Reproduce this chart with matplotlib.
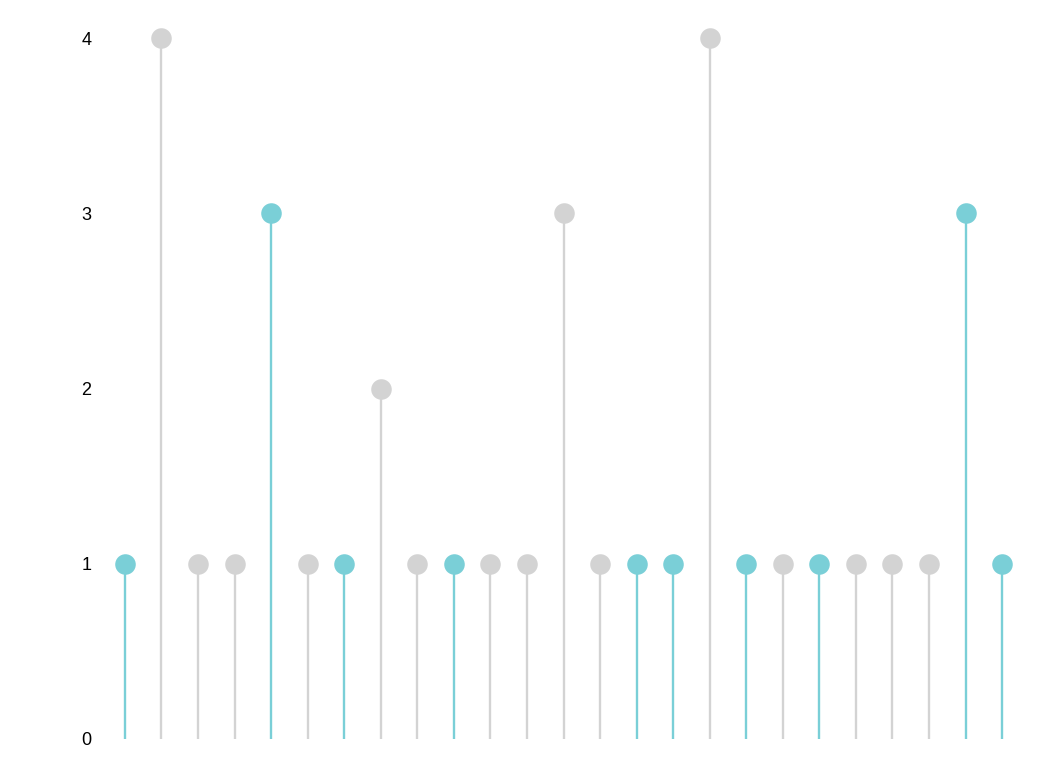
import matplotlib
matplotlib.use("Agg")
import matplotlib.pyplot as plt

values = [1, 4, 1, 1, 3, 1, 1, 2, 1, 1, 1, 1, 3, 1, 1, 1, 4, 1, 1, 1, 1, 1, 1, 3, 1]
highlight = [1, 0, 0, 0, 1, 0, 1, 0, 0, 1, 0, 0, 0, 0, 1, 1, 0, 1, 0, 1, 0, 0, 0, 1, 1]
yticks = [0, 1, 2, 3, 4]

TEAL = "#7ACFD7"
GRAY = "#D3D3D3"

plt.rcParams['font.family'] = ['Liberation Sans', 'DejaVu Sans']
fig = plt.figure(figsize=(10.52, 7.84), dpi=100)
ax = fig.add_axes([0.1014, 0.0574, 0.8685, 0.8941])

for i, (v, h) in enumerate(zip(values, highlight)):
    c = TEAL if h else GRAY
    ax.plot([i, i], [0, v], color=c, lw=1.7, solid_capstyle='butt', clip_on=False, zorder=2)
    ax.plot([i], [v], 'o', color=c, ms=14.8, mec='none', clip_on=False, zorder=3)

ax.set_xlim(-0.5, len(values) - 0.5)
ax.set_ylim(0, 4)
ax.set_yticks(yticks)
ax.set_yticklabels([str(t) for t in yticks])
ax.set_xticks([])
ax.tick_params(axis='y', length=0, pad=11, labelsize=13, colors='black')
for s in ax.spines.values():
    s.set_visible(False)

fig.savefig("out.png", dpi=100)
